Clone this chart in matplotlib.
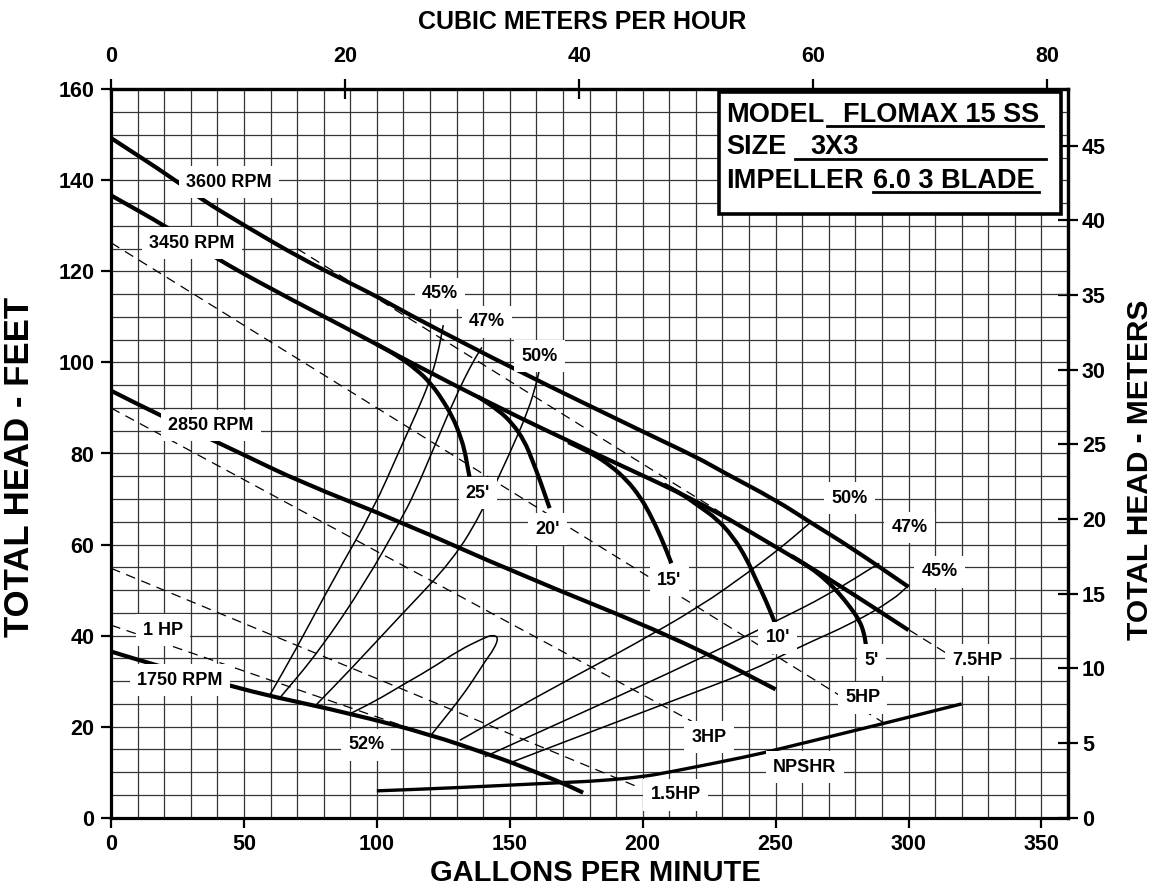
import matplotlib
matplotlib.use('Agg')
import matplotlib.pyplot as plt
from matplotlib.ticker import MultipleLocator
from matplotlib.patches import Rectangle, PathPatch
from matplotlib.lines import Line2D
from matplotlib.path import Path

plt.rcParams['font.family'] = ['Liberation Sans', 'DejaVu Sans']
plt.rcParams['font.weight'] = 'bold'
plt.rcParams['lines.scale_dashes'] = False

# ---------------- data (GPM vs feet) ----------------
rpm3600_gpm = [0, 23.4, 33.5, 51, 71, 90, 100, 116, 152.5, 200, 221, 229, 250, 263, 278, 300]
rpm3600_ft = [149.3, 140.4, 136.0, 129.8, 123.0, 117.4, 114.5, 109.3, 98.3, 84.8, 79.0, 76.3, 69.8, 64.9, 59.5, 50.7]

rpm3450_gpm = [0, 21, 38.5, 61, 90, 111, 145, 182, 221, 250, 271, 300]
rpm3450_ft = [136.7, 129.8, 123.2, 115.9, 107.1, 100.5, 90.3, 80, 69.5, 59.5, 52.2, 41.2]

rpm2850_gpm = [0, 17, 50, 71, 109, 152.5, 213, 250]
rpm2850_ft = [93.8, 88.8, 79.7, 73.8, 65, 53.7, 39.4, 28.2]

rpm1750_gpm = [0, 18, 46, 60, 90, 120, 142.5, 150, 168.8, 177.6]
rpm1750_ft = [36.5, 33.3, 28.8, 26.7, 22.9, 18.3, 13.8, 12.3, 7.9, 5.5]

npshr_gpm = [100, 127, 169, 184, 200, 210, 240, 250, 290, 320]
npshr_ft = [5.9, 6.5, 7.7, 8.1, 9.0, 10.0, 13.5, 14.9, 20.6, 25.0]

sub25_gpm = [100, 108, 115, 120, 124.5, 128.5, 131, 133, 134.3, 135]
sub25_ft = [104, 101.4, 98.4, 95.6, 92, 88, 84.5, 80.8, 76.5, 74.5]
sub20_gpm = [138, 146, 151, 155.5, 158.5, 161.3, 163.5, 165]
sub20_ft = [92.5, 89.4, 86.6, 82.8, 78.5, 74.2, 70.5, 68]
sub15_gpm = [172, 181, 188, 194, 199, 202.6, 207, 210.8]
sub15_ft = [82.5, 80, 77.3, 74.2, 70.5, 66.9, 61.5, 55.9]
sub10_gpm = [208, 215, 221, 228, 234, 239, 242.7, 246.5, 249.6]
sub10_ft = [73.2, 71, 68.5, 65.6, 61.7, 57, 52.2, 47.5, 43]
sub5_gpm = [256, 263, 269, 274, 278, 281.6, 283.3, 284]
sub5_ft = [57.5, 55, 52.2, 49.2, 46.3, 43.3, 40.5, 37.9]

eff45L_gpm = [59.8, 69.8, 83.5, 98.6, 108.6, 115, 120, 123, 125]
eff45L_ft = [27, 37.2, 52.2, 67.6, 80.8, 89, 96, 102, 108.2]
eff47L_gpm = [62.9, 78.6, 96, 108.6, 114, 122, 130, 136, 139.5]
eff47L_ft = [25.9, 36.8, 52, 65, 71, 82, 93, 100, 103.3]
eff50L_gpm = [76.7, 90, 108.6, 128.7, 140, 150, 157, 160, 161]
eff50L_ft = [24.5, 32.5, 44.2, 56.6, 67.6, 80, 89.5, 95.4, 98]
eff52_gpm = [89.8, 100, 108.6, 120, 131, 140, 143.7, 145.8, 144, 141, 136, 131, 125, 120.5]
eff52_ft = [22.8, 25.8, 28.8, 32.6, 36.8, 39.4, 40.2, 39.5, 37, 34.6, 30, 25.9, 21.5, 18.2]
eff50R_gpm = [131.2, 160, 183.8, 195, 221.4, 240, 252, 262.8]
eff50R_ft = [17, 26.5, 34, 37.5, 46.3, 54, 59.3, 64.7]
eff47R_gpm = [140.6, 183.8, 220, 249.6, 270, 289]
eff47R_ft = [13.4, 24.8, 34.5, 43, 49, 55.9]
eff45R_gpm = [151.2, 183.8, 220, 240.2, 257.8, 280, 294, 300]
eff45R_ft = [12.3, 19.6, 27.6, 32.1, 37.2, 43, 47.8, 51]

hp1_gpm, hp1_ft = [0, 125], [42.3, 17.1]
hp15_gpm, hp15_ft = [0, 198], [54.8, 6.8]
hp3_gpm, hp3_ft = [0, 220], [90, 20.7]
hp5_gpm, hp5_ft = [0, 293], [126.3, 20]
hp75_gpm, hp75_ft = [70, 316], [125, 35.5]

labels = ["3600 RPM", "3450 RPM", "2850 RPM", "1750 RPM", "1 HP", "52%",
          "25'", "20'", "15'", "10'", "5'", "7.5HP", "5HP", "3HP", "NPSHR", "1.5HP",
          "45%", "47%", "50%", "50%", "47%", "45%"]
label_pos = [(44.5, 139.6), (30.5, 126.2), (37.6, 86.2), (26, 30.2), (19.5, 41.2), (96, 16),
             (138, 71.3), (164.3, 63.4), (210, 52.2), (250.8, 39.5), (286, 34.6), (326, 34.6),
             (282.7, 26.3), (225, 17.7), (261, 11.1), (212.4, 5),
             (123.7, 115.2), (141.4, 108.9), (161.3, 101.4), (277.8, 70.2), (300.4, 63.8), (311.7, 54)]

xlabel_bottom = "GALLONS PER MINUTE"
xlabel_top = "CUBIC METERS PER HOUR"
ylabel_left = "TOTAL HEAD - FEET"
ylabel_right = "TOTAL HEAD - METERS"
m3h_ticks = [0, 20, 40, 60, 80]
meter_ticks = [0, 5, 10, 15, 20, 25, 30, 35, 40, 45]

# ---------------- figure ----------------
W, H = 1155, 896
fig = plt.figure(figsize=(W / 100, H / 100), dpi=100)


def fx(x):
    return x / W


def fy(y):
    return 1 - y / H


def smooth_path(xs, ys):
    pts = list(zip(xs, ys))
    if len(pts) < 3:
        return Path(pts)
    mids = [((pts[i][0] + pts[i + 1][0]) / 2, (pts[i][1] + pts[i + 1][1]) / 2)
            for i in range(len(pts) - 1)]
    verts = [pts[0], mids[0]]
    codes = [Path.MOVETO, Path.LINETO]
    for i in range(1, len(pts) - 1):
        verts += [pts[i], mids[i]]
        codes += [Path.CURVE3, Path.CURVE3]
    verts.append(pts[-1])
    codes.append(Path.LINETO)
    return Path(verts, codes)


ax = fig.add_axes([fx(111), fy(817.7), (1068 - 111) / W, (817.7 - 89.3) / H])
ax.set_xlim(0, 360)
ax.set_ylim(0, 160)
ax.xaxis.set_major_locator(MultipleLocator(50))
ax.xaxis.set_minor_locator(MultipleLocator(10))
ax.yaxis.set_major_locator(MultipleLocator(20))
ax.yaxis.set_minor_locator(MultipleLocator(5))
ax.grid(which='both', color='#353535', lw=0.9)
ax.set_axisbelow(True)
ax.tick_params(which='minor', length=0)
ax.tick_params(axis='x', which='major', direction='out', length=7, width=1.6, labelsize=15.5, pad=5)
ax.tick_params(axis='y', which='major', direction='out', length=7, width=1.6, labelsize=15.5, pad=5)
for s in ax.spines.values():
    s.set_linewidth(2.3)


def draw(xs, ys, lw):
    ax.add_patch(PathPatch(smooth_path(xs, ys), fill=False, ec='black', lw=lw,
                           capstyle='butt', joinstyle='round', zorder=3))


for g, f in [(rpm3600_gpm, rpm3600_ft), (rpm3450_gpm, rpm3450_ft), (rpm2850_gpm, rpm2850_ft),
             (rpm1750_gpm, rpm1750_ft), (sub25_gpm, sub25_ft), (sub20_gpm, sub20_ft),
             (sub15_gpm, sub15_ft), (sub10_gpm, sub10_ft), (sub5_gpm, sub5_ft)]:
    draw(g, f, 3.0)
draw(npshr_gpm, npshr_ft, 2.4)

for g, f in [(eff45L_gpm, eff45L_ft), (eff47L_gpm, eff47L_ft), (eff50L_gpm, eff50L_ft),
             (eff52_gpm, eff52_ft), (eff50R_gpm, eff50R_ft), (eff47R_gpm, eff47R_ft),
             (eff45R_gpm, eff45R_ft)]:
    draw(g, f, 1.1)

for g, f in [(hp1_gpm, hp1_ft), (hp15_gpm, hp15_ft), (hp3_gpm, hp3_ft),
             (hp5_gpm, hp5_ft), (hp75_gpm, hp75_ft)]:
    ax.plot(g, f, color='black', lw=0.9, dashes=(7, 4.8), zorder=3)

for t, (x, y) in zip(labels, label_pos):
    ax.text(x, y, t, ha='center', va='center', fontsize=13, zorder=5,
            bbox=dict(boxstyle='square,pad=0.4', fc='white', ec='none'))

# secondary axes
sx = ax.secondary_xaxis('top', functions=(lambda g: g * 0.22712, lambda m: m / 0.22712))
sx.set_xticks(m3h_ticks)
sx.tick_params(direction='inout', length=14, width=1.6, labelsize=15.5, pad=9)
sy = ax.secondary_yaxis('right', functions=(lambda f: f * 0.3048, lambda m: m / 0.3048))
sy.set_yticks(meter_ticks)
sy.tick_params(direction='inout', length=14, width=1.6, labelsize=15.5, pad=3)
for a in (sx, sy):
    for s in a.spines.values():
        s.set_linewidth(2.3)

fig.text(fx(595), fy(873), xlabel_bottom, ha='center', va='center', fontsize=21)
fig.text(fx(582), fy(22), xlabel_top, ha='center', va='center', fontsize=18)
fig.text(fx(20), fy(467), ylabel_left, ha='center', va='center', rotation=90, fontsize=25)
fig.text(fx(1140), fy(470), ylabel_right, ha='center', va='center', rotation=90, fontsize=21.5)

# model box
box = Rectangle((fx(719), fy(214)), (1061 - 719) / W, (214 - 92.5) / H, transform=fig.transFigure,
                fc='white', ec='black', lw=2.6, zorder=6)
fig.add_artist(box)
fs_box = 19.5
fig.text(fx(726), fy(122), "MODEL", fontsize=fs_box, va='baseline', zorder=7)
fig.text(fx(843), fy(122), "FLOMAX 15 SS", fontsize=fs_box, va='baseline', zorder=7)
fig.text(fx(726), fy(154.5), "SIZE", fontsize=fs_box, va='baseline', zorder=7)
fig.text(fx(810), fy(154.5), "3X3", fontsize=fs_box, va='baseline', zorder=7)
fig.text(fx(726), fy(187.5), "IMPELLER", fontsize=fs_box, va='baseline', zorder=7)
fig.text(fx(873), fy(187.5), "6.0 3 BLADE", fontsize=fs_box, va='baseline', zorder=7)
for x0, x1, yy in [(826.7, 1042.7, 126.5), (795, 1045.7, 159), (872.7, 1039, 192.5)]:
    fig.add_artist(Line2D([fx(x0), fx(x1)], [fy(yy), fy(yy)], transform=fig.transFigure,
                          color='black', lw=2.0, zorder=7))

fig.savefig('out.png', dpi=100)
